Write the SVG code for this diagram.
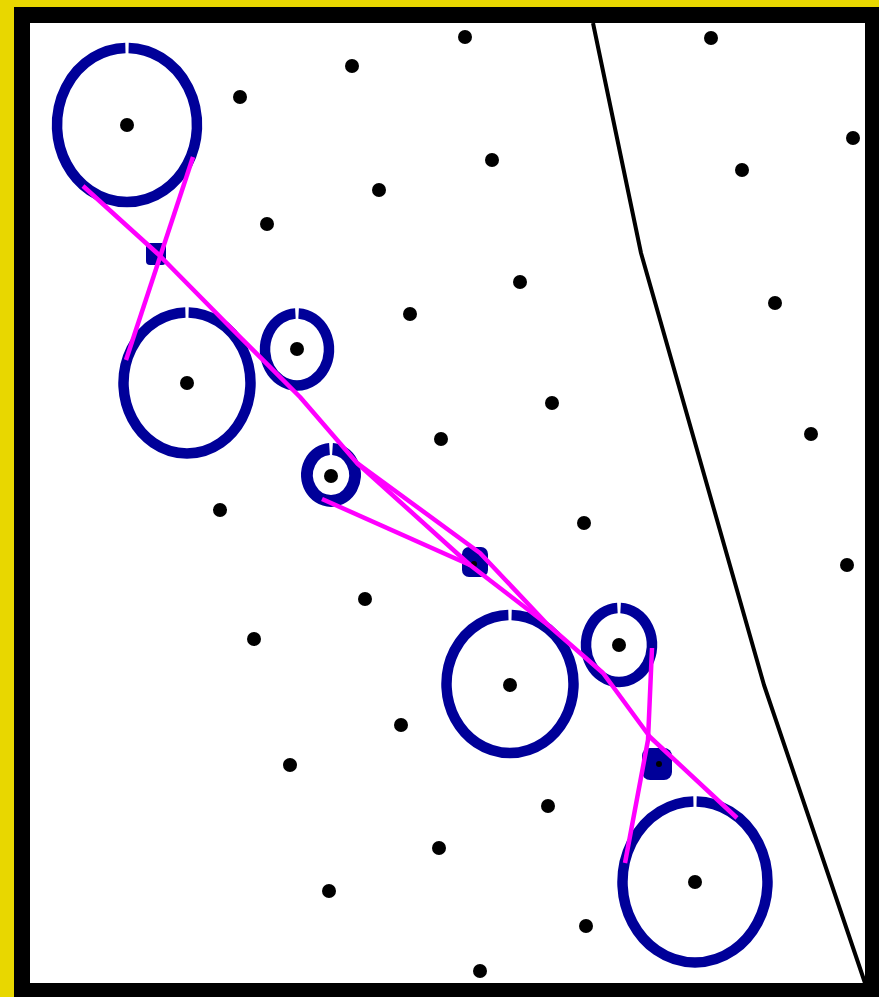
<svg xmlns="http://www.w3.org/2000/svg" width="879" height="997" viewBox="0 0 879 997">
<style>
.ring{fill:none;stroke:#000099;stroke-width:10.5;}
.blob{fill:#000099;stroke:none;}
.dot{fill:#000000;}
.cable{fill:none;stroke:#FF00FF;stroke-width:4.5;stroke-linejoin:round;}
.edge{fill:none;stroke:#000000;stroke-width:4;stroke-linejoin:round;}
</style>
<rect x="0" y="0" width="879" height="997" fill="#E8D700"/>
<rect x="22" y="15" width="851" height="976" fill="#FFFFFF" stroke="#000000" stroke-width="16"/>
<polyline class="edge" points="593,23 641,253 764,685 865,983"/>
<g id="points">
<circle class="dot" cx="465" cy="37" r="7"/>
<circle class="dot" cx="711" cy="38" r="7"/>
<circle class="dot" cx="352" cy="66" r="7"/>
<circle class="dot" cx="240" cy="97" r="7"/>
<circle class="dot" cx="853" cy="138" r="7"/>
<circle class="dot" cx="492" cy="160" r="7"/>
<circle class="dot" cx="742" cy="170" r="7"/>
<circle class="dot" cx="379" cy="190" r="7"/>
<circle class="dot" cx="267" cy="224" r="7"/>
<circle class="dot" cx="520" cy="282" r="7"/>
<circle class="dot" cx="775" cy="303" r="7"/>
<circle class="dot" cx="410" cy="314" r="7"/>
<circle class="dot" cx="552" cy="403" r="7"/>
<circle class="dot" cx="441" cy="439" r="7"/>
<circle class="dot" cx="811" cy="434" r="7"/>
<circle class="dot" cx="220" cy="510" r="7"/>
<circle class="dot" cx="584" cy="523" r="7"/>
<circle class="dot" cx="847" cy="565" r="7"/>
<circle class="dot" cx="365" cy="599" r="7"/>
<circle class="dot" cx="254" cy="639" r="7"/>
<circle class="dot" cx="401" cy="725" r="7"/>
<circle class="dot" cx="290" cy="765" r="7"/>
<circle class="dot" cx="548" cy="806" r="7"/>
<circle class="dot" cx="439" cy="848" r="7"/>
<circle class="dot" cx="329" cy="891" r="7"/>
<circle class="dot" cx="586" cy="926" r="7"/>
<circle class="dot" cx="480" cy="971" r="7"/>
</g>
<g id="pulley1"><path class="ring" d="M128.6,48 A70 77 0 1 1 125.4,48"/><circle class="dot" cx="127" cy="125" r="7"/></g>
<g id="pulley2"><path class="ring" d="M188.6,312.5 A63.5 70.5 0 1 1 185.4,312.5"/><circle class="dot" cx="187" cy="383" r="7"/></g>
<g id="pulley3"><path class="ring" d="M298.6,313.5 A32 36 0 1 1 295.4,313.5"/><circle class="dot" cx="297" cy="349" r="7"/></g>
<g id="pulley4"><path class="ring" style="stroke-width:12" d="M332.5,449 A24 26 0 1 1 329.5,449"/><circle class="dot" cx="331" cy="476" r="7"/></g>
<g id="pulley5"><path class="ring" d="M511.6,615 A63.5 69 0 1 1 508.4,615"/><circle class="dot" cx="510" cy="685" r="7"/></g>
<g id="pulley6"><path class="ring" d="M620.6,608 A33 37 0 1 1 617.4,608"/><circle class="dot" cx="619" cy="645" r="7"/></g>
<g id="pulley7"><path class="ring" d="M696.6,801.5 A72.5 80.5 0 1 1 693.4,801.5"/><circle class="dot" cx="695" cy="882" r="7"/></g>
<g id="cross1"><rect class="blob" x="146" y="243" width="20" height="22" rx="4"/></g>
<g id="cross2"><rect class="blob" x="462" y="547" width="26" height="30" rx="7"/><circle class="dot" cx="474" cy="564" r="3"/></g>
<g id="cross3"><rect class="blob" x="642" y="748" width="30" height="32" rx="8"/><circle class="dot" cx="659" cy="764" r="3"/></g>
<g id="connectors">
<polyline class="cable" points="83,186 158,254 233,330 300,397 357,463 480,553 548,625 603,673 650,737 737,818"/>
<polyline class="cable" points="357,463 470,565 548,625"/>
<polyline class="cable" points="322,499 470,565"/>
<polyline class="cable" points="193,157 126,360"/>
<polyline class="cable" points="652,648 648,740 625,863"/>
</g>
</svg>
